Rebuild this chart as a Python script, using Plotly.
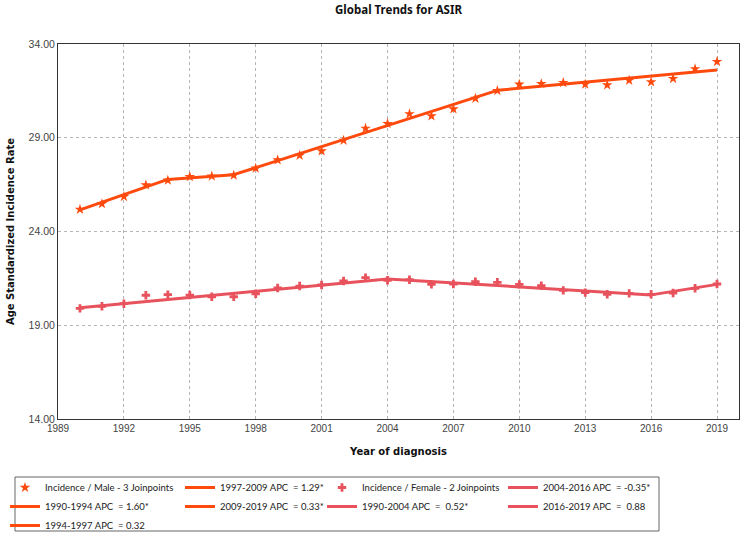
import plotly.graph_objects as go

# ---------------- data ----------------
years = list(range(1990, 2020))
male_asir = [25.18, 25.48, 25.86, 26.48, 26.73, 26.92, 26.95, 27.00, 27.37, 27.81,
             28.06, 28.29, 28.86, 29.50, 29.75, 30.27, 30.16, 30.53, 31.10, 31.51,
             31.85, 31.88, 31.94, 31.85, 31.81, 32.06, 31.97, 32.15, 32.67, 33.06]
female_asir = [19.90, 20.01, 20.15, 20.60, 20.63, 20.61, 20.52, 20.52, 20.68, 20.99,
               21.09, 21.15, 21.36, 21.54, 21.40, 21.43, 21.18, 21.20, 21.32, 21.29,
               21.18, 21.11, 20.86, 20.74, 20.65, 20.70, 20.65, 20.72, 20.97, 21.20]

# joinpoint fitted values (segment end points)
male_joinpoint_years = [1990, 1994, 1997, 2009, 2019]
male_joinpoint_fit = [25.15, 26.78, 27.03, 31.53, 32.61]
male_segment_labels = ["1990-1994 APC\u00a0 = 1.60*", "1994-1997 APC\u00a0 = 0.32",
                       "1997-2009 APC\u00a0 = 1.29*", "2009-2019 APC\u00a0 = 0.33*"]
male_segment_legends = ["legend", "legend", "legend2", "legend2"]

female_joinpoint_years = [1990, 2004, 2016, 2019]
female_joinpoint_fit = [19.93, 21.47, 20.62, 21.18]
female_segment_labels = ["1990-2004 APC\u00a0 = \u00a00.52*", "2004-2016 APC\u00a0 = -0.35*",
                         "2016-2019 APC\u00a0 = \u00a00.88"]
female_segment_legends = ["legend3", "legend4", "legend4"]

x_ticks = list(range(1989, 2020, 3))
y_ticks = [14, 19, 24, 29, 34]

MALE = "#FF4A0E"
FEMALE = "#E8525C"

fig = go.Figure()

fig.add_trace(go.Scatter(x=years, y=male_asir, mode="markers",
                         name="Incidence / Male - 3 Joinpoints",
                         marker=dict(symbol="star", size=8, color=MALE),
                         legend="legend"))
for i, lab in enumerate(male_segment_labels):
    fig.add_trace(go.Scatter(x=male_joinpoint_years[i:i + 2], y=male_joinpoint_fit[i:i + 2],
                             mode="lines", name=lab, line=dict(color=MALE, width=3),
                             legend=male_segment_legends[i]))

fig.add_trace(go.Scatter(x=years, y=female_asir, mode="markers",
                         name="Incidence / Female - 2 Joinpoints",
                         marker=dict(symbol="cross", size=7, color=FEMALE),
                         legend="legend3"))
for i, lab in enumerate(female_segment_labels):
    fig.add_trace(go.Scatter(x=female_joinpoint_years[i:i + 2], y=female_joinpoint_fit[i:i + 2],
                             mode="lines", name=lab, line=dict(color=FEMALE, width=3),
                             legend=female_segment_legends[i]))

L, R, T, B = 58, 5, 44, 114
W, H = 744, 533
pw = W - L - R
ph = H - T - B


def px_to_paper_x(px):
    return (px - L) / pw


def px_to_paper_y(py):
    return (H - B - py) / ph


legend_font = dict(family="Lato", size=9.5, color="#222")
legend_top = px_to_paper_y(473)
common_leg = dict(xanchor="left", yanchor="top", y=legend_top, bgcolor="rgba(0,0,0,0)",
                  borderwidth=0, font=legend_font, traceorder="normal", itemwidth=30)

fig.update_layout(
    width=W, height=H,
    margin=dict(l=L, r=R, t=T, b=B, autoexpand=False),
    paper_bgcolor="white", plot_bgcolor="white",
    title=dict(text="<b>Global Trends for ASIR</b>", x=0.5, xref="paper", xanchor="center",
               y=1 - 10 / H, yref="container", yanchor="middle",
               font=dict(family="Noto Sans", size=11.5, color="#111")),
    legend=dict(x=px_to_paper_x(5), **common_leg),
    legend2=dict(x=px_to_paper_x(180), **common_leg),
    legend3=dict(x=px_to_paper_x(322), **common_leg),
    legend4=dict(x=px_to_paper_x(503), **common_leg),
    shapes=[dict(type="rect", xref="paper", yref="paper",
                 x0=px_to_paper_x(15), x1=px_to_paper_x(659),
                 y0=px_to_paper_y(477), y1=px_to_paper_y(531),
                 line=dict(color="#666", width=1), fillcolor="rgba(0,0,0,0)")],
)

fig.update_xaxes(range=[1989, 2020], tickvals=x_ticks, ticks="", showgrid=True,
                 gridcolor="#b5b5b5", griddash="dot", gridwidth=1,
                 showline=True, linecolor="#333", linewidth=1, mirror=True,
                 zeroline=False,
                 tickfont=dict(family="Liberation Sans", size=10, color="#444"),
                 title=dict(text="<b>Year of diagnosis</b>", standoff=14,
                            font=dict(family="DejaVu Sans", size=10, color="#111")))
fig.update_yaxes(range=[14, 34], tickvals=y_ticks, tickformat=".2f", ticks="",
                 showgrid=True, gridcolor="#b5b5b5", griddash="dot", gridwidth=1,
                 showline=True, linecolor="#333", linewidth=1, mirror=True,
                 zeroline=False,
                 tickfont=dict(family="Liberation Sans", size=10.5, color="#444"),
                 title=dict(text="<b>Age Standardized Incidence Rate</b>", standoff=12,
                            font=dict(family="DejaVu Sans", size=10, color="#111")))

fig.write_html("out.html", config={"displayModeBar": False},
               post_script="document.body.style.margin='0';")
